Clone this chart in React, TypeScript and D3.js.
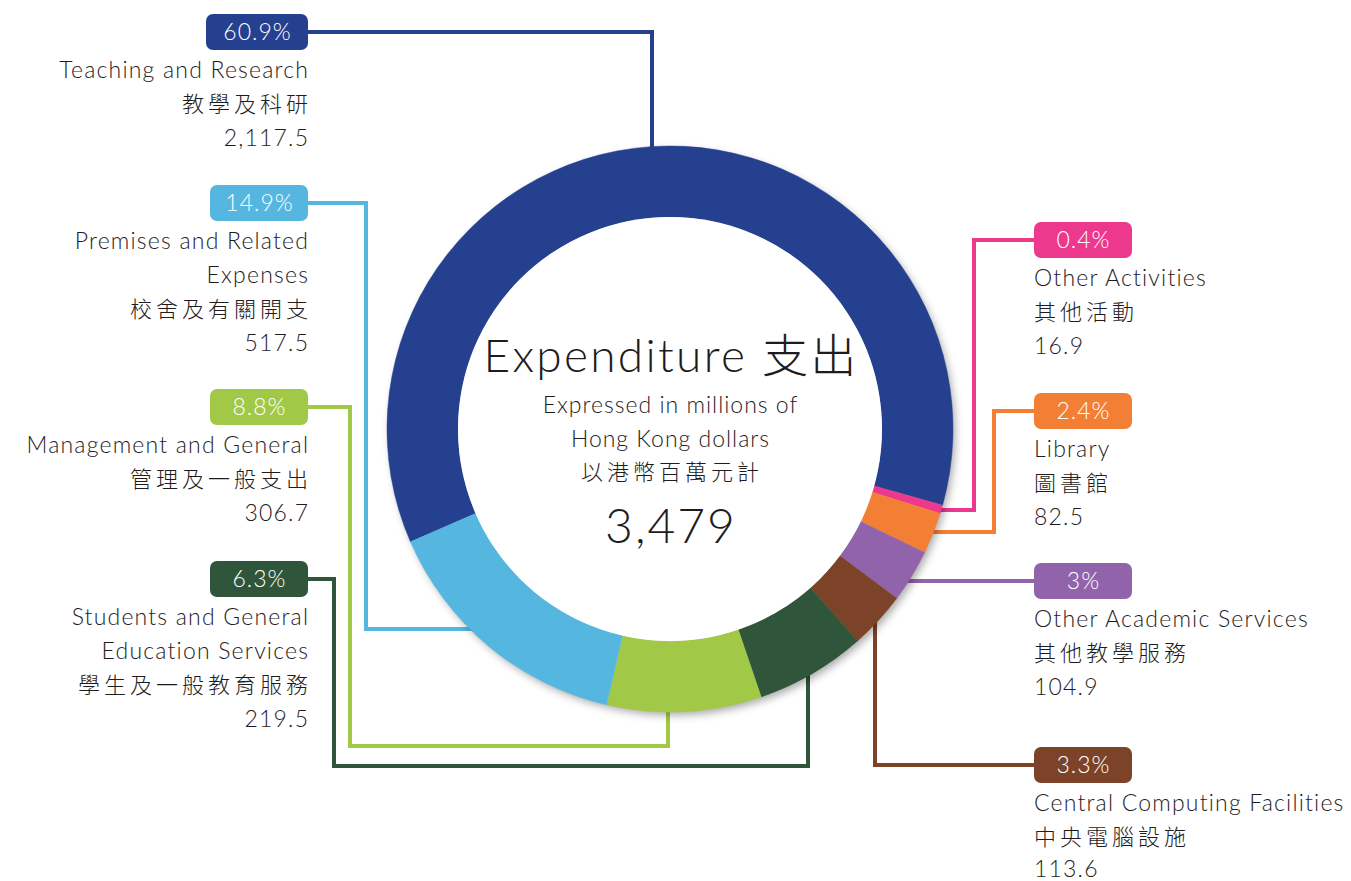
import React from "react";
import * as d3 from "d3";

const categories = [
  "Teaching and Research",
  "Other Activities",
  "Library",
  "Other Academic Services",
  "Central Computing Facilities",
  "Students and General Education Services",
  "Management and General",
  "Premises and Related Expenses",
];
const values = [2117.5, 16.9, 82.5, 104.9, 113.6, 219.5, 306.7, 517.5];
const percentLabels = ["60.9%", "0.4%", "2.4%", "3%", "3.3%", "6.3%", "8.8%", "14.9%"];
const englishLines = [
  ["Teaching and Research"],
  ["Other Activities"],
  ["Library"],
  ["Other Academic Services"],
  ["Central Computing Facilities"],
  ["Students and General", "Education Services"],
  ["Management and General"],
  ["Premises and Related", "Expenses"],
];
const chineseLabels = [
  "教學及科研",
  "其他活動",
  "圖書館",
  "其他教學服務",
  "中央電腦設施",
  "學生及一般教育服務",
  "管理及一般支出",
  "校舍及有關開支",
];
const valueLabels = ["2,117.5", "16.9", "82.5", "104.9", "113.6", "219.5", "306.7", "517.5"];
const colors = ["#25408F", "#EC388D", "#F37F34", "#9163AA", "#7C4329", "#2F553A", "#A1C947", "#55B6E0"];

const totalLabel = "3,479";
const titleLabel = "Expenditure 支出";
const subtitleLines = ["Expressed in millions of", "Hong Kong dollars", "以港幣百萬元計"];

// layout (not data)
const labelSide = ["left", "right", "right", "right", "right", "left", "left", "left"];
const badgeTop = [14, 222, 393, 563, 747, 561, 389, 185];
const badgeWidth = [102, 98, 98, 98, 98, 98, 98, 98];
// routes: alternating horizontal-to-x / vertical-to-y moves, then final move into ring
const routes: number[][] = [[652], [974, 510], [994, 532], [], [875], [334, 766, 808], [350, 746, 668], [366, 629]];

const W = 1351;
const H = 881;
const cx = 670;
const cy = 429;
const outerR = 283;
const innerR = 212;
const FONT = "Lato, 'Noto Sans CJK TC', 'Noto Sans', sans-serif";
const CJK = "'Noto Sans CJK TC', sans-serif";
const TEXT = "#1f1c1d";

export default function App() {
  const pie = d3
    .pie<number>()
    .sort(null)
    .value((d) => d)
    .startAngle((-113.5 * Math.PI) / 180)
    .endAngle(((360 - 113.5) * Math.PI) / 180);
  const arcs = pie(values);
  const arcGen = d3.arc<d3.PieArcDatum<number>>().innerRadius(innerR).outerRadius(outerR);

  const badgeH = 36;
  const midR = (innerR + outerR) / 2;

  const leaderPath = (i: number) => {
    const left = labelSide[i] === "left";
    const bx = left ? 308 : 1034;
    const by = badgeTop[i] + badgeH / 2;
    const pts: [number, number][] = [[bx, by]];
    let x = bx;
    let y = by;
    routes[i].forEach((v, k) => {
      if (k % 2 === 0) x = v;
      else y = v;
      pts.push([x, y]);
    });
    if (routes[i].length % 2 === 0) {
      const dx = Math.sqrt(Math.max(0, midR * midR - (y - cy) * (y - cy)));
      x = x < cx ? cx - dx : cx + dx;
    } else {
      const dy = Math.sqrt(Math.max(0, midR * midR - (x - cx) * (x - cx)));
      y = y < cy ? cy - dy : cy + dy;
    }
    pts.push([x, y]);
    return d3.line()(pts) as string;
  };

  return (
    <svg width={W} height={H} viewBox={`0 0 ${W} ${H}`} style={{ display: "block", position: "absolute", left: 0, top: 0, background: "#fff" }}>
      <defs>
        <filter id="shadow" x="-20%" y="-20%" width="140%" height="140%">
          <feDropShadow dx="3" dy="4" stdDeviation="4" floodColor="#000" floodOpacity="0.35" />
        </filter>
      </defs>
      <rect width={W} height={H} fill="#fff" />

      {values.map((_, i) => (
        <path key={"l" + i} d={leaderPath(i)} fill="none" stroke={colors[i]} strokeWidth={4} strokeLinejoin="miter" />
      ))}

      <g transform={`translate(${cx},${cy})`}>
        <circle r={outerR - 1} fill="#fff" filter="url(#shadow)" />
        {arcs.map((a, i) => (
          <path key={"a" + i} d={arcGen(a) as string} fill={colors[i]} stroke={colors[i]} strokeWidth={0.5} />
        ))}
        <circle r={innerR} fill="#fff" />
      </g>

      <g fontFamily={FONT} fill={TEXT} textAnchor="middle" fontWeight={300}>
        <text x={cx + 1} y={372} fontSize={46} letterSpacing={2.3}>{titleLabel}</text>
        <text x={cx + 0.5} y={413} fontSize={23} letterSpacing={1}>{subtitleLines[0]}</text>
        <text x={cx + 0.5} y={447} fontSize={23} letterSpacing={1}>{subtitleLines[1]}</text>
        <text x={cx + 2} y={480} fontSize={22} fontFamily={CJK} fontWeight={300} letterSpacing={4}>{subtitleLines[2]}</text>
        <text x={cx + 1} y={543} fontSize={48} letterSpacing={2}>{totalLabel}</text>
      </g>

      {values.map((_, i) => {
        const left = labelSide[i] === "left";
        const bw = badgeWidth[i];
        const bx = left ? 308 - bw : 1034;
        const top = badgeTop[i];
        const tx = left ? 308 : 1034;
        const anchor = left ? "end" : "start";
        const lines = [
          ...englishLines[i].map((t) => ({ t, cjk: false })),
          { t: chineseLabels[i], cjk: true },
          { t: valueLabels[i], cjk: false },
        ];
        return (
          <g key={"lab" + i}>
            <rect x={bx} y={top} width={bw} height={badgeH} rx={7} fill={colors[i]} />
            <text x={bx + bw / 2 + 0.5} y={top + 26} textAnchor="middle" fontFamily={FONT} fontWeight={300} fontSize={23} letterSpacing={1} fill="#fff">
              {percentLabels[i]}
            </text>
            {lines.map((ln, k) => (
              <text
                key={k}
                x={tx}
                y={Math.min(top + 64 + k * 34, 877)}
                textAnchor={anchor}
                fontFamily={ln.cjk ? CJK : FONT}
                fontWeight={300}
                fontSize={ln.cjk ? 22 : 23}
                letterSpacing={ln.cjk ? 4 : 1.2}
                dx={left ? (ln.cjk ? 4 : 1.2) : 0}
                fill={TEXT}
              >
                {ln.t}
              </text>
            ))}
          </g>
        );
      })}
    </svg>
  );
}
